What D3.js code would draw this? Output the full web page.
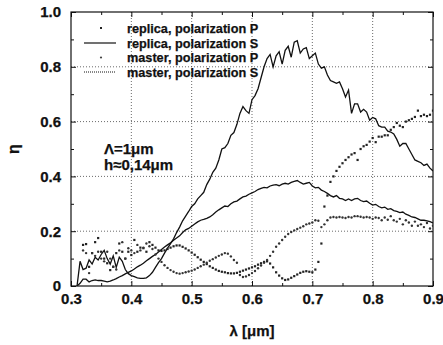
<!DOCTYPE html>
<html>
<head>
<meta charset="utf-8">
<script src="https://cdn.jsdelivr.net/npm/d3@7"></script>
<style>
  body { margin: 0; background: #fff; }
  svg { display: block; }
  text { font-family: "Liberation Sans", Arial, sans-serif; font-weight: bold; fill: #111; stroke: #111; stroke-width: 0.25; }
</style>
</head>
<body>
<script>
// wavelength grid of the measurements (µm)
const lambdaStartS = 0.31;
const lambdaStartP = 0.32;
const lambdaStep = 0.005;

// replica, polarization S  (0.31 .. 0.90)
const replicaS = [
  0.0, 0.09, 0.06, 0.065, 0.095, 0.08, 0.105, 0.095, 0.115, 0.13,
  0.1, 0.08, 0.11, 0.068, 0.105, 0.09, 0.06, 0.045, 0.038, 0.034,
  0.03, 0.028, 0.028, 0.03, 0.038, 0.05, 0.068, 0.085, 0.1, 0.12,
  0.138, 0.155, 0.172, 0.195, 0.215, 0.238, 0.255, 0.272, 0.29, 0.3,
  0.318, 0.33, 0.342, 0.37, 0.39, 0.415, 0.43, 0.46, 0.5, 0.505,
  0.52, 0.55, 0.56, 0.59, 0.63, 0.655, 0.64, 0.63, 0.68, 0.695,
  0.72, 0.76, 0.8, 0.83, 0.845, 0.8, 0.84, 0.855, 0.81, 0.86,
  0.875, 0.835, 0.89, 0.895, 0.85, 0.865, 0.87, 0.83, 0.84, 0.85,
  0.81, 0.795, 0.8, 0.77, 0.75, 0.745, 0.74, 0.745, 0.72, 0.69,
  0.715, 0.63, 0.665, 0.665, 0.635, 0.645, 0.635, 0.605, 0.615, 0.61,
  0.585, 0.58, 0.58, 0.565, 0.562, 0.555, 0.535, 0.51, 0.52, 0.52,
  0.5, 0.48, 0.46, 0.455, 0.45, 0.44, 0.445, 0.43, 0.42
];

// master, polarization S  (0.31 .. 0.90)
const masterS = [
  0.0, 0.01, 0.025, 0.025, 0.015, 0.02, 0.022, 0.02, 0.02, 0.018,
  0.015, 0.018, 0.022, 0.027, 0.033, 0.038, 0.044, 0.05, 0.055, 0.062,
  0.07, 0.076, 0.083, 0.092, 0.1, 0.108, 0.115, 0.124, 0.133, 0.142,
  0.15, 0.158, 0.167, 0.175, 0.183, 0.195, 0.205, 0.21, 0.218, 0.226,
  0.234, 0.24, 0.243, 0.247, 0.252, 0.26, 0.27, 0.278, 0.285, 0.292,
  0.29, 0.3, 0.307, 0.31, 0.318, 0.325, 0.328, 0.335, 0.34, 0.345,
  0.352, 0.356, 0.36, 0.358, 0.365, 0.368, 0.37, 0.366, 0.372, 0.375,
  0.372, 0.378, 0.382, 0.385, 0.378, 0.372, 0.375, 0.378, 0.365, 0.358,
  0.36, 0.35, 0.345, 0.338, 0.33, 0.325, 0.33, 0.32, 0.318, 0.312,
  0.318, 0.312, 0.318, 0.32, 0.312, 0.308, 0.31, 0.302, 0.295, 0.298,
  0.29, 0.285, 0.288, 0.28, 0.282, 0.275, 0.272, 0.268, 0.27, 0.262,
  0.258, 0.252, 0.25, 0.245, 0.24, 0.24, 0.238, 0.235, 0.23
];

// replica, polarization P  (0.32 .. 0.90)
const replicaP = [
  0.15, 0.153, 0.07, 0.12, 0.16, 0.175, 0.125, 0.1, 0.083, 0.058,
  0.07, 0.12, 0.155, 0.125, 0.1, 0.125, 0.113, 0.168, 0.125, 0.14,
  0.138, 0.125, 0.16, 0.15, 0.14, 0.13, 0.128, 0.13, 0.135, 0.14,
  0.145, 0.148, 0.148, 0.143, 0.137, 0.13, 0.122, 0.114, 0.105, 0.096,
  0.088, 0.08, 0.072, 0.066, 0.06, 0.055, 0.052, 0.05, 0.047, 0.046,
  0.046, 0.048, 0.052, 0.056, 0.06, 0.064, 0.068, 0.072, 0.078, 0.083,
  0.088, 0.09, 0.082, 0.068, 0.05, 0.038, 0.028, 0.022, 0.024, 0.03,
  0.036, 0.042, 0.048, 0.052, 0.054, 0.052, 0.05, 0.06, 0.088, 0.155,
  0.29, 0.33, 0.38, 0.4, 0.42, 0.435, 0.448, 0.46, 0.47, 0.48,
  0.485, 0.46, 0.5, 0.51, 0.515, 0.527, 0.54, 0.525, 0.545, 0.545,
  0.55, 0.55, 0.57, 0.58, 0.595, 0.585, 0.58, 0.6, 0.605, 0.61,
  0.617, 0.64, 0.62, 0.625, 0.62, 0.625, 0.64
];

// master, polarization P  (0.32 .. 0.90)
const masterP = [
  0.13, 0.12, 0.047, 0.12, 0.11, 0.125, 0.1, 0.09, 0.125, 0.1,
  0.07, 0.06, 0.13, 0.16, 0.1, 0.138, 0.13, 0.12, 0.15, 0.13,
  0.14, 0.155, 0.145, 0.135, 0.115, 0.1, 0.088, 0.076, 0.066, 0.058,
  0.052, 0.047, 0.045, 0.047, 0.05, 0.053, 0.056, 0.06, 0.066, 0.072,
  0.078, 0.085, 0.092, 0.098, 0.104, 0.11, 0.115, 0.12, 0.118, 0.108,
  0.095, 0.085, 0.04, 0.033, 0.035, 0.04, 0.047, 0.055, 0.065, 0.075,
  0.085, 0.095, 0.11, 0.125, 0.143, 0.155, 0.168, 0.18, 0.19, 0.197,
  0.203, 0.208, 0.213, 0.218, 0.225, 0.228, 0.232, 0.24, 0.238, 0.215,
  0.225, 0.24, 0.25, 0.252, 0.25, 0.252, 0.25, 0.248, 0.252, 0.25,
  0.255, 0.255, 0.253, 0.25, 0.252, 0.25, 0.245, 0.25, 0.248, 0.24,
  0.25, 0.242, 0.255, 0.24, 0.235, 0.245, 0.225, 0.24, 0.232, 0.22,
  0.235, 0.22, 0.225, 0.215, 0.23, 0.21, 0.22
];

const xTicks = [0.3, 0.4, 0.5, 0.6, 0.7, 0.8, 0.9];
const xMinorTicks = [0.35, 0.45, 0.55, 0.65, 0.75, 0.85];
const yTicks = [0, 0.2, 0.4, 0.6, 0.8, 1.0];
const yMinorTicks = [0.1, 0.3, 0.5, 0.7, 0.9];
const yTickLabels = ["0", "0.2", "0.4", "0.6", "0.8", "1.0"];
const legendLabels = ["replica, polarization P", "replica, polarization S", "master, polarization P", "master, polarization S"];

const width = 443, height = 345;
const margin = { top: 12, right: 10, bottom: 59, left: 71 };

const x = d3.scaleLinear().domain([0.3, 0.9]).range([margin.left, width - margin.right]);
const y = d3.scaleLinear().domain([0, 1]).range([height - margin.bottom, margin.top]);

const toPoints = (vals, start) => vals.map((v, i) => ({ l: start + i * lambdaStep, v }));

const svg = d3.select("body").append("svg")
  .attr("width", width)
  .attr("height", height);

// dotted grid at the major ticks
const grid = svg.append("g")
  .attr("stroke", "#444")
  .attr("stroke-width", 0.8)
  .attr("stroke-dasharray", "1,2");
grid.selectAll(".gx").data(xTicks.slice(1, -1)).join("line")
  .attr("x1", d => x(d)).attr("x2", d => x(d))
  .attr("y1", y(0)).attr("y2", y(1));
grid.selectAll(".gy").data(yTicks.slice(1, -1)).join("line")
  .attr("x1", x(0.3)).attr("x2", x(0.9))
  .attr("y1", d => y(d)).attr("y2", d => y(d));

// axes (ticks pointing inward)
svg.append("g")
  .attr("transform", `translate(0,${y(0)})`)
  .call(d3.axisBottom(x).tickValues(xTicks).tickSize(-5).tickPadding(7.5).tickFormat(d3.format(".1f")))
  .call(g => g.select(".domain").remove());
svg.append("g")
  .attr("transform", `translate(0,${y(0)})`)
  .call(d3.axisBottom(x).tickValues(xMinorTicks).tickSize(-3).tickFormat(""))
  .call(g => g.select(".domain").remove());
svg.append("g")
  .attr("transform", `translate(0,${y(1)})`)
  .call(d3.axisTop(x).tickValues(xTicks).tickSize(-5).tickFormat(""))
  .call(g => g.select(".domain").remove());
svg.append("g")
  .attr("transform", `translate(0,${y(1)})`)
  .call(d3.axisTop(x).tickValues(xMinorTicks).tickSize(-3).tickFormat(""))
  .call(g => g.select(".domain").remove());
svg.append("g")
  .attr("transform", `translate(${x(0.3)},0)`)
  .call(d3.axisLeft(y).tickValues(yTicks).tickSize(-5).tickPadding(10).tickFormat((d, i) => yTickLabels[i]))
  .call(g => g.select(".domain").remove());
svg.append("g")
  .attr("transform", `translate(${x(0.3)},0)`)
  .call(d3.axisLeft(y).tickValues(yMinorTicks).tickSize(-3).tickFormat(""))
  .call(g => g.select(".domain").remove());
svg.append("g")
  .attr("transform", `translate(${x(0.9)},0)`)
  .call(d3.axisRight(y).tickValues(yTicks).tickSize(-5).tickFormat(""))
  .call(g => g.select(".domain").remove());
svg.append("g")
  .attr("transform", `translate(${x(0.9)},0)`)
  .call(d3.axisRight(y).tickValues(yMinorTicks).tickSize(-3).tickFormat(""))
  .call(g => g.select(".domain").remove());

svg.selectAll(".tick line").attr("stroke", "#111");
svg.selectAll(".tick text")
  .attr("font-size", 15)
  .attr("font-family", "Liberation Sans, Arial, sans-serif")
  .attr("font-weight", "bold")
  .attr("fill", "#111");

// frame
svg.append("rect")
  .attr("x", x(0.3)).attr("y", y(1))
  .attr("width", x(0.9) - x(0.3)).attr("height", y(0) - y(1))
  .attr("fill", "none").attr("stroke", "#111").attr("stroke-width", 1.2);

svg.append("clipPath").attr("id", "clip")
  .append("rect")
  .attr("x", x(0.3)).attr("y", y(1))
  .attr("width", x(0.9) - x(0.3)).attr("height", y(0) - y(1));

const plot = svg.append("g").attr("clip-path", "url(#clip)");

const line = d3.line().x(d => x(d.l)).y(d => y(d.v));

plot.append("path")
  .datum(toPoints(masterS, lambdaStartS))
  .attr("fill", "none").attr("stroke", "#111").attr("stroke-width", 1.3)
  .attr("d", line);
plot.append("path")
  .datum(toPoints(replicaS, lambdaStartS))
  .attr("fill", "none").attr("stroke", "#111").attr("stroke-width", 1.3)
  .attr("d", line);

plot.append("g").selectAll("rect")
  .data(toPoints(replicaP, lambdaStartP))
  .join("rect")
  .attr("x", d => x(d.l) - 1.1).attr("y", d => y(d.v) - 1.1)
  .attr("width", 2.2).attr("height", 2.2)
  .attr("fill", "#222");
plot.append("g").selectAll("circle")
  .data(toPoints(masterP, lambdaStartP))
  .join("circle")
  .attr("cx", d => x(d.l)).attr("cy", d => y(d.v))
  .attr("r", 1.2)
  .attr("fill", "#333");

// legend
const legend = svg.append("g");
const rowY = [28, 43, 57.5, 72];
legend.selectAll("text").data(legendLabels).join("text")
  .attr("x", 127).attr("y", (d, i) => rowY[i] + 4.5)
  .attr("font-size", 12.7)
  .text(d => d);
legend.append("rect").attr("x", 100).attr("y", rowY[0] - 1).attr("width", 2).attr("height", 2).attr("fill", "#222");
legend.append("line").attr("x1", 84).attr("x2", 116).attr("y1", rowY[1]).attr("y2", rowY[1])
  .attr("stroke", "#111").attr("stroke-width", 1.2);
legend.append("circle").attr("cx", 101).attr("cy", rowY[2]).attr("r", 1.1).attr("fill", "#444");
legend.append("line").attr("x1", 84).attr("x2", 116).attr("y1", rowY[3]).attr("y2", rowY[3])
  .attr("stroke", "#111").attr("stroke-width", 1).attr("stroke-dasharray", "1,1");

// annotation
svg.append("text").attr("x", 104).attr("y", 154).attr("font-size", 15).text("Λ=1μm");
svg.append("text").attr("x", 104).attr("y", 170).attr("font-size", 15).text("h≈0,14μm");

// axis titles
svg.append("text")
  .attr("x", (x(0.3) + x(0.9)) / 2).attr("y", 336)
  .attr("text-anchor", "middle").attr("font-size", 15)
  .text("λ [μm]");
svg.append("text")
  .attr("transform", `translate(19,${(y(0) + y(1)) / 2}) rotate(-90)`)
  .attr("text-anchor", "middle").attr("font-size", 16)
  .text("η");
</script>
</body>
</html>
